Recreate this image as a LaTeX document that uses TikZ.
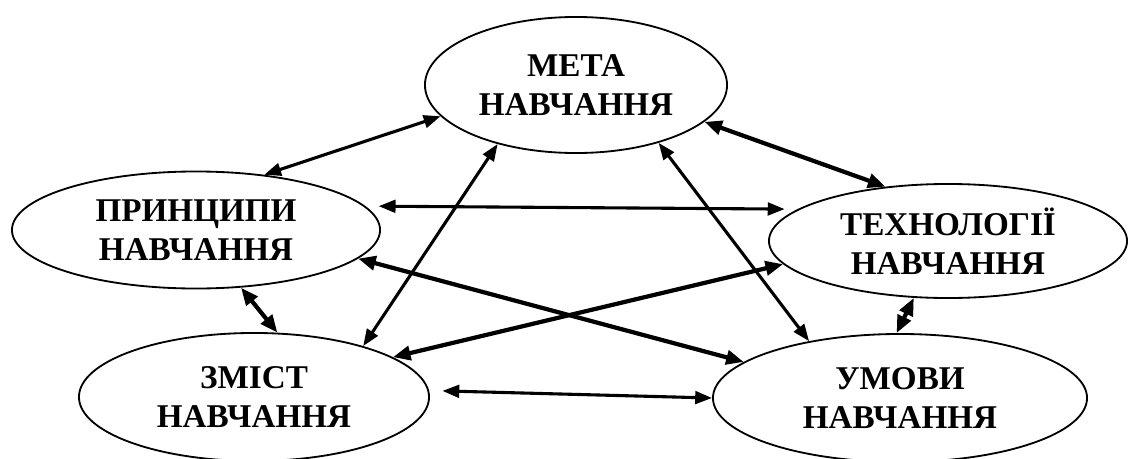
\documentclass[tikz,border=0pt]{standalone}
\usepackage{fontspec}
\setmainfont{Liberation Serif}
\usepackage{tikz}
\usetikzlibrary{shapes.geometric,arrows.meta}
\tikzstyle{aim} = [ellipse, draw=black, line width=1.3pt, align=center, inner sep=0pt,
font=\fontsize{23.6}{27.5}\selectfont\bfseries]
\tikzstyle{arrow} = [line width=2.2pt,<->,>={Triangle[length=12pt,width=9pt]}]
\tikzstyle{boldarrow} = [line width=3pt,<->,>={Triangle[length=12.5pt,width=10pt]}]

\begin{document}
\begin{tikzpicture}[x=0.025cm,y=-0.025cm]
                        \useasboundingbox (0,0) rectangle (1128,459);
                        \node[aim, minimum width=7.55cm, minimum height=3.4cm] (meta)
                            at (576,85) {МЕТА \\ НАВЧАННЯ};
                        \node[aim, minimum width=9.2cm, minimum height=2.925cm] (prin)
                            at (196,230) {ПРИНЦИПИ \\ НАВЧАННЯ};
                        \node[aim, minimum width=8.95cm, minimum height=2.85cm] (tech)
                            at (948,241) {ТЕХНОЛОГІЇ \\ НАВЧАННЯ};
                        \node[aim, minimum width=8.75cm, minimum height=3.2cm] (zmist)
                            at (254,397) {ЗМІСТ \\ НАВЧАННЯ};
                        \node[aim, minimum width=9.35cm, minimum height=3.2cm] (umov)
                            at (900,398) {УМОВИ \\ НАВЧАННЯ};
                        % links
                        \draw[arrow] (prin.39) -- (meta.193);
                        \draw[boldarrow] (meta.344) -- (tech.139);
                        \draw[arrow] ([xshift=0.33cm]prin.8) -- ([xshift=-0.33cm]tech.168);
                        \draw[boldarrow] (prin.350) -- (umov.167);
                        \draw[boldarrow] (zmist.16) -- (tech.188);
                        \draw[arrow] (zmist.25) -- (meta.217);
                        \draw[arrow] (meta.325) -- (umov.148);
                        \draw[boldarrow] (prin.308) -- (zmist.70);
                        \draw[boldarrow] (tech.239) -- (umov.93);
                        \draw[arrow] ([xshift=0.33cm]zmist.2) -- (umov.180);
                    \end{tikzpicture}
\end{document}
